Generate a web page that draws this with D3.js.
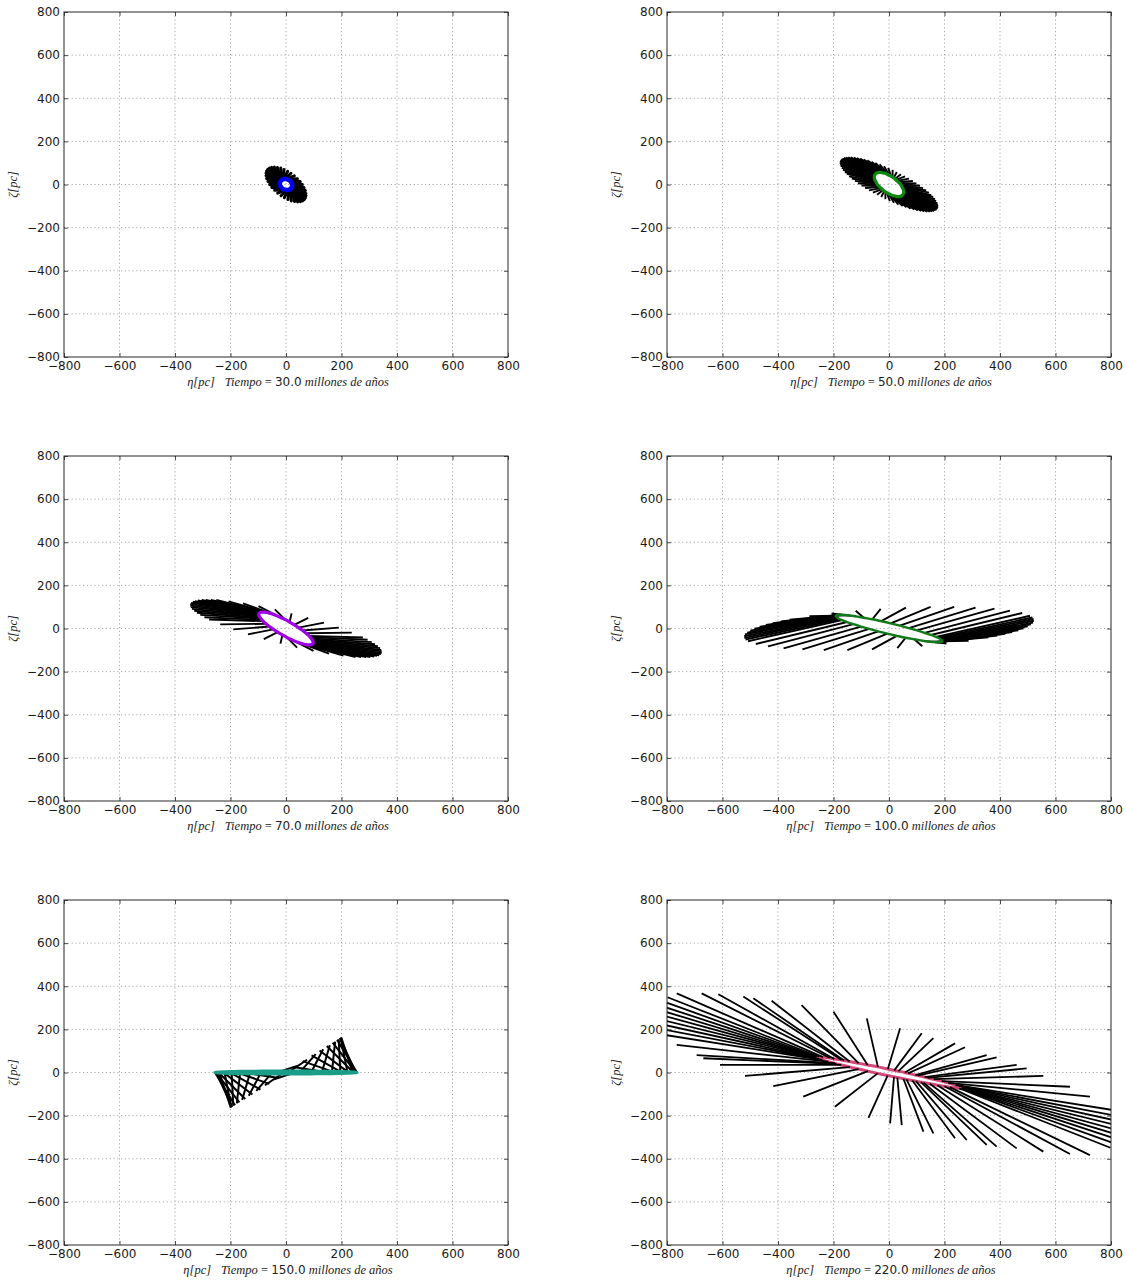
<!DOCTYPE html>
<html>
<head>
<meta charset="utf-8">
<script src="https://cdn.jsdelivr.net/npm/d3@7"></script>
<style>
  body { margin: 0; background: #fff; }
  svg { display: block; }
</style>
</head>
<body>
<svg id="fig" width="1127" height="1283"></svg>
<script>
// Snapshot times (millions of years) and ring colours for each panel
const times = [30.0, 50.0, 70.0, 100.0, 150.0, 220.0];
const ringColors = ["#0000ff", "#0a8a0a", "#9f00e6", "#127a1a", "#1a9e88", "#d4487a"];
const tickValues = [-800, -600, -400, -200, 0, 200, 400, 600, 800];

// Ring positions [eta, zeta] in pc and the matching vector tips, t = 30 Myr
const ring30 = [[22,-4],[22,0],[21,5],[19,9],[17,13],[14,17],[11,20],[8,22],[4,24],[0,25],[-4,25],[-8,25],[-11,24],[-14,22],[-17,19],[-19,16],[-21,12],[-22,8],[-22,4],[-22,0],[-21,-5],[-19,-9],[-17,-13],[-14,-17],[-11,-20],[-8,-22],[-4,-24],[0,-25],[4,-25],[8,-25],[11,-24],[14,-22],[17,-19],[19,-16],[21,-12],[22,-8]];
const tip30 = [[66,-70],[70,-62],[72,-52],[72,-41],[70,-28],[65,-14],[59,0],[51,14],[41,27],[30,40],[18,52],[6,61],[-7,70],[-19,76],[-31,79],[-42,81],[-52,80],[-60,76],[-66,70],[-70,62],[-72,52],[-72,41],[-70,28],[-65,14],[-59,0],[-51,-14],[-41,-27],[-30,-40],[-18,-52],[-6,-61],[7,-70],[19,-76],[31,-79],[42,-81],[52,-80],[60,-76]];

// t = 50 Myr
const ring50 = [[50,-47],[51,-44],[52,-41],[53,-38],[53,-34],[53,-30],[52,-26],[51,-21],[49,-17],[47,-12],[45,-7],[43,-2],[40,3],[37,7],[33,12],[29,17],[25,21],[21,26],[17,30],[13,34],[8,38],[3,41],[-1,44],[-6,47],[-10,50],[-15,52],[-19,53],[-23,54],[-27,55],[-31,56],[-35,56],[-38,55],[-41,55],[-44,53],[-46,52],[-48,49],[-50,47],[-51,44],[-52,41],[-53,38],[-53,34],[-53,30],[-52,26],[-51,21],[-49,17],[-47,12],[-45,7],[-43,2],[-40,-3],[-37,-7],[-33,-12],[-29,-17],[-25,-21],[-21,-26],[-17,-30],[-13,-34],[-8,-38],[-3,-41],[1,-44],[6,-47],[10,-50],[15,-52],[19,-53],[23,-54],[27,-55],[31,-56],[35,-56],[38,-55],[41,-55],[44,-53],[46,-52],[48,-49]];
const tip50 = [[175,-112],[177,-107],[177,-100],[176,-93],[174,-86],[170,-77],[166,-68],[159,-58],[152,-49],[144,-38],[134,-28],[123,-17],[112,-6],[99,5],[86,16],[72,27],[58,38],[43,48],[28,58],[13,68],[-3,77],[-18,85],[-34,93],[-49,100],[-63,106],[-78,112],[-91,116],[-104,120],[-116,123],[-127,125],[-138,126],[-147,126],[-155,125],[-162,123],[-168,120],[-172,117],[-175,112],[-177,107],[-177,100],[-176,93],[-174,86],[-170,77],[-166,68],[-159,58],[-152,49],[-144,38],[-134,28],[-123,17],[-112,6],[-99,-5],[-86,-16],[-72,-27],[-58,-38],[-43,-48],[-28,-58],[-13,-68],[3,-77],[18,-85],[34,-93],[49,-100],[63,-106],[78,-112],[91,-116],[104,-120],[116,-123],[127,-125],[138,-126],[147,-126],[155,-125],[162,-123],[168,-120],[172,-117]];

// t = 70 Myr
const ring70 = [[97,-70],[98,-67],[98,-64],[97,-60],[96,-56],[93,-51],[91,-46],[87,-40],[83,-34],[72,-22],[60,-9],[45,4],[30,17],[13,30],[-4,42],[-21,52],[-37,61],[-52,68],[-66,73],[-72,75],[-78,76],[-82,76],[-87,76],[-90,75],[-93,74],[-96,72],[-97,70],[-98,67],[-98,64],[-97,60],[-96,56],[-93,51],[-91,46],[-87,40],[-83,34],[-72,22],[-60,9],[-45,-4],[-30,-17],[-13,-30],[4,-42],[21,-52],[37,-61],[52,-68],[66,-73],[72,-75],[78,-76],[82,-76],[87,-76],[90,-75],[93,-74],[96,-72]];
const tip70 = [[345,-113],[345,-106],[343,-99],[339,-91],[331,-82],[321,-73],[309,-63],[294,-52],[277,-42],[237,-19],[190,4],[137,27],[80,49],[20,70],[-40,89],[-99,104],[-155,117],[-207,126],[-251,132],[-271,133],[-289,133],[-304,132],[-318,130],[-328,127],[-336,124],[-342,119],[-345,113],[-345,106],[-343,99],[-339,91],[-331,82],[-321,73],[-309,63],[-294,52],[-277,42],[-237,19],[-190,-4],[-137,-27],[-80,-49],[-20,-70],[40,-89],[99,-104],[155,-117],[207,-126],[251,-132],[271,-133],[289,-133],[304,-132],[318,-130],[328,-127],[336,-124],[342,-119]];

// t = 100 Myr
const ring100 = [[192,-59],[192,-57],[190,-54],[187,-51],[183,-47],[177,-43],[169,-39],[151,-30],[128,-20],[101,-9],[71,2],[39,13],[6,24],[-28,34],[-60,43],[-91,50],[-119,56],[-143,61],[-163,63],[-172,64],[-178,64],[-184,63],[-188,62],[-191,61],[-192,59],[-192,57],[-190,54],[-187,51],[-183,47],[-177,43],[-169,39],[-151,30],[-128,20],[-101,9],[-71,-2],[-39,-13],[-6,-24],[28,-34],[60,-43],[91,-50],[119,-56],[143,-61],[163,-63],[172,-64],[178,-64],[184,-63],[188,-62],[191,-61]];
const tip100 = [[500,10],[511,19],[519,27],[522,36],[521,44],[517,51],[508,59],[480,72],[436,83],[380,92],[312,97],[235,100],[150,100],[61,97],[-30,91],[-120,82],[-207,70],[-287,57],[-358,41],[-390,33],[-419,25],[-444,16],[-466,8],[-485,-1],[-500,-10],[-511,-19],[-519,-27],[-522,-36],[-521,-44],[-517,-51],[-508,-59],[-480,-72],[-436,-83],[-380,-92],[-312,-97],[-235,-100],[-150,-100],[-61,-97],[30,-91],[120,-82],[207,-70],[287,-57],[358,-41],[390,-33],[419,-25],[444,-16],[466,-8],[485,1]];

// t = 150 Myr
const ring150 = [[256,0],[252,1],[241,2],[222,3],[196,4],[165,5],[128,5],[88,6],[45,6],[0,6],[-45,6],[-88,6],[-128,5],[-165,5],[-196,4],[-222,3],[-241,2],[-252,1],[-256,0],[-252,-1],[-241,-2],[-222,-3],[-196,-4],[-165,-5],[-128,-5],[-88,-6],[-45,-6],[0,-6],[45,-6],[88,-6],[128,-5],[165,-5],[196,-4],[222,-3],[241,-2],[252,-1]];
const tip150 = [[184,152],[168,139],[147,123],[121,102],[92,79],[60,53],[26,25],[-9,-3],[-43,-32],[-76,-59],[-107,-85],[-134,-108],[-158,-127],[-177,-143],[-190,-154],[-197,-161],[-199,-163],[-194,-160],[-184,-152],[-168,-139],[-147,-123],[-121,-102],[-92,-79],[-60,-53],[-26,-25],[9,3],[43,32],[76,59],[107,85],[134,108],[158,127],[177,143],[190,154],[197,161],[199,163],[194,160]];

// t = 220 Myr
const ring220 = [[252,-73],[261,-74],[267,-74],[270,-73],[270,-72],[267,-70],[261,-66],[252,-62],[240,-58],[213,-48],[190,-40],[161,-31],[139,-25],[128,-21],[104,-14],[95,-12],[69,-4],[57,0],[34,6],[19,10],[-4,16],[-40,26],[-77,35],[-110,43],[-142,51],[-162,56],[-171,58],[-197,63],[-213,67],[-238,71],[-252,73],[-261,74],[-267,74],[-270,73],[-270,72],[-267,70],[-261,66],[-252,62],[-240,58],[-219,50],[-196,43],[-189,40],[-172,35],[-141,25],[-110,16],[-76,6],[-41,-4],[-5,-14],[18,-20],[30,-23],[52,-29],[63,-32],[84,-37],[97,-40],[115,-45],[125,-47],[147,-52],[174,-59],[200,-64],[219,-68]];
const tip220 = [[798,-349],[831,-338],[855,-324],[870,-307],[876,-286],[872,-261],[857,-234],[834,-205],[802,-173],[724,-112],[652,-66],[556,-16],[496,19],[460,35],[388,70],[352,81],[274,117],[238,135],[160,159],[118,182],[40,205],[-80,251],[-200,282],[-315,313],[-423,333],[-489,344],[-525,352],[-615,363],[-675,367],[-765,367],[-798,349],[-831,338],[-855,324],[-870,307],[-876,286],[-872,261],[-857,234],[-834,205],[-802,173],[-765,128],[-693,81],[-669,66],[-609,35],[-519,-16],[-417,-63],[-309,-112],[-195,-159],[-74,-210],[4,-236],[46,-244],[124,-274],[160,-282],[238,-305],[280,-313],[352,-336],[388,-344],[460,-352],[556,-367],[652,-378],[724,-383]];

const rings = [ring30, ring50, ring70, ring100, ring150, ring220];
const tips  = [tip30, tip50, tip70, tip100, tip150, tip220];

// Layout of the 3 x 2 grid of axes (pixels)
const colX = [64, 667];
const rowY = [12, 456, 900];
const W = 444, H = 345;
const ringWidth = [4.5, 3.2, 3.2, 2.4, 3.2, 3.0];
const vecWidth  = [3.0, 1.9, 1.9, 1.9, 2.0, 1.8];
const ringOnTop = [true, true, true, true, true, false];

const SANS = "'DejaVu Sans', sans-serif";
const SERIF = "'Liberation Serif', 'DejaVu Serif', serif";

const svg = d3.select("#fig");

times.forEach((tm, i) => {
  const ox = colX[i % 2], oy = rowY[Math.floor(i / 2)];
  const x = d3.scaleLinear().domain([-800, 800]).range([0, W]);
  const y = d3.scaleLinear().domain([-800, 800]).range([H, 0]);
  const g = svg.append("g").attr("transform", `translate(${ox},${oy})`);

  // dotted grid
  const grid = g.append("g").attr("stroke", "#a0a0a0").attr("stroke-width", 0.9)
    .attr("stroke-dasharray", "1.2,2.6");
  tickValues.slice(1, -1).forEach(v => {
    grid.append("line").attr("x1", x(v)).attr("x2", x(v)).attr("y1", 0).attr("y2", H);
    grid.append("line").attr("y1", y(v)).attr("y2", y(v)).attr("x1", 0).attr("x2", W);
  });

  // clip region for the data
  const cid = "clip" + i;
  g.append("clipPath").attr("id", cid).append("rect").attr("width", W).attr("height", H);
  const data = g.append("g").attr("clip-path", `url(#${cid})`);

  const ring = rings[i], tip = tips[i];
  const ringPath = d3.line().x(d => x(d[0])).y(d => y(d[1])).curve(d3.curveCardinalClosed);

  const drawRing = () => data.append("path")
    .attr("d", ringPath(ring))
    .attr("fill", "none")
    .attr("stroke", ringColors[i])
    .attr("stroke-width", ringWidth[i]);

  if (!ringOnTop[i]) drawRing();

  data.append("g").selectAll("line").data(d3.range(ring.length)).join("line")
    .attr("x1", k => x(ring[k][0])).attr("y1", k => y(ring[k][1]))
    .attr("x2", k => x(tip[k][0])).attr("y2", k => y(tip[k][1]))
    .attr("stroke", "#000").attr("stroke-width", vecWidth[i])
    .attr("stroke-linecap", i === 0 ? "round" : "butt");

  if (ringOnTop[i]) drawRing();

  // axes: ticks pointing inward on all four sides
  const fmt = d3.format("d");
  const axB = g.append("g").attr("transform", `translate(0,${H})`)
    .call(d3.axisBottom(x).tickValues(tickValues).tickSize(-4).tickPadding(4).tickFormat(fmt));
  const axL = g.append("g")
    .call(d3.axisLeft(y).tickValues(tickValues).tickSize(-4).tickPadding(4).tickFormat(fmt));
  const axT = g.append("g")
    .call(d3.axisTop(x).tickValues(tickValues).tickSize(-4).tickFormat(""));
  const axR = g.append("g").attr("transform", `translate(${W},0)`)
    .call(d3.axisRight(y).tickValues(tickValues).tickSize(-4).tickFormat(""));
  [axB, axL, axT, axR].forEach(a => {
    a.select(".domain").remove();
    a.selectAll(".tick line").attr("stroke", "#222").attr("stroke-width", 0.8);
    a.selectAll("text").attr("font-family", SANS).attr("font-size", 12).attr("fill", "#1a1a1a");
  });

  // frame
  g.append("rect").attr("width", W).attr("height", H)
    .attr("fill", "none").attr("stroke", "#262626").attr("stroke-width", 1);

  // x label
  const xl = g.append("text").attr("x", W / 2 + 2).attr("y", H + 29)
    .attr("text-anchor", "middle").attr("font-size", 12.5).attr("fill", "#222");
  xl.append("tspan").attr("font-family", SERIF).attr("font-style", "italic").text("η[pc]");
  xl.append("tspan").attr("font-family", SERIF).attr("font-style", "italic").attr("dx", 10).text("Tiempo");
  xl.append("tspan").attr("font-family", SERIF).text(" = ");
  xl.append("tspan").attr("font-family", SANS).attr("font-size", 12).text(tm.toFixed(1));
  xl.append("tspan").attr("font-family", SERIF).attr("font-style", "italic").text(" millones de años");

  // y label
  g.append("text").attr("transform", `translate(${-47},${H / 2}) rotate(-90)`)
    .attr("text-anchor", "middle").attr("font-family", SERIF).attr("font-style", "italic")
    .attr("font-size", 12.5).attr("fill", "#222").text("ζ[pc]");
});
</script>
</body>
</html>
